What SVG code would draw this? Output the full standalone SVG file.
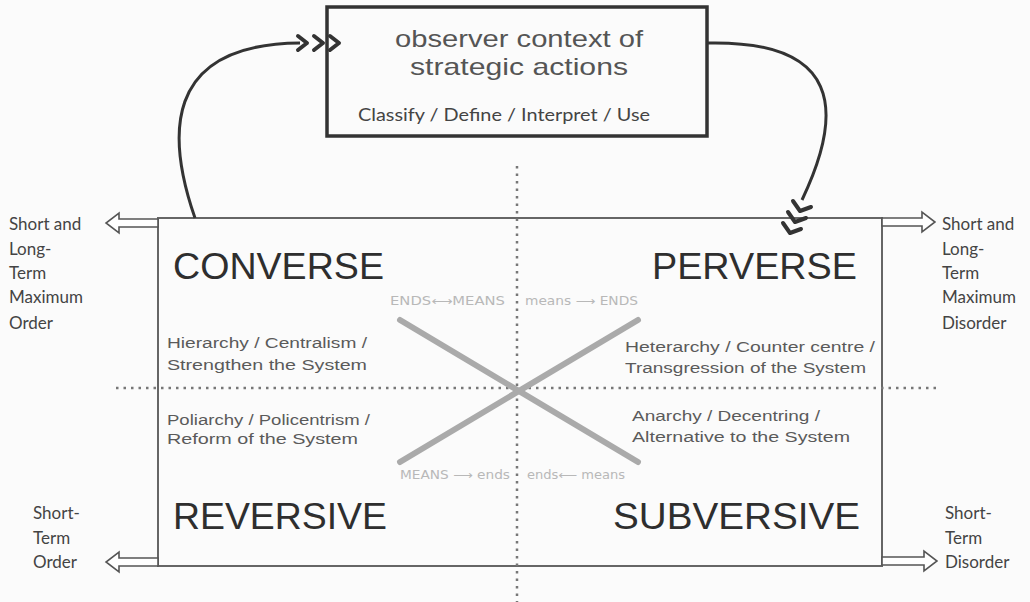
<svg xmlns="http://www.w3.org/2000/svg" width="1030" height="602" viewBox="0 0 1030 602">
<style>
.big{font-family:"Liberation Sans",Arial,sans-serif;font-size:37px;fill:#2e2e2e}
.sm{font-family:"Liberation Sans",Arial,sans-serif;font-size:14px;fill:#5a5a5a}
.side{font-family:Lato,"Noto Sans",sans-serif;font-size:17px;fill:#444}
.em{font-family:"DejaVu Sans",sans-serif;font-size:12px;fill:#b8b8b8}
.obs{font-family:"Liberation Sans",Arial,sans-serif;font-size:24px;fill:#555}
.hollow{fill:#fff;stroke:#555;stroke-width:1.6;stroke-linejoin:miter}
.dot{stroke:#777;stroke-width:2.5;stroke-dasharray:2.5 5;fill:none}
.curve{fill:none;stroke:#333;stroke-width:3}
.chev{fill:none;stroke:#333;stroke-width:4;stroke-linecap:round;stroke-linejoin:round}
.x{stroke:#aaa;stroke-width:6;stroke-linecap:round}
</style>
<rect width="1030" height="602" fill="#fbfbfb"/>
<g id="observer">
<rect x="327" y="7" width="380" height="129" fill="none" stroke="#333" stroke-width="3.5"/>
<text class="obs" x="395" y="47" textLength="248" lengthAdjust="spacingAndGlyphs">observer context of</text>
<text class="obs" x="410" y="75" textLength="218" lengthAdjust="spacingAndGlyphs">strategic actions</text>
<text class="side" x="358" y="121" font-size="19" textLength="292" lengthAdjust="spacingAndGlyphs">Classify / Define / Interpret / Use</text>
</g>
<g id="main">
<rect x="158" y="218" width="724" height="348" fill="none" stroke="#666" stroke-width="2"/>
</g>
<g id="connectors">
<line class="dot" x1="517" y1="166" x2="517" y2="602"/>
<line class="dot" x1="116" y1="388" x2="938" y2="388"/>
<line class="x" x1="400" y1="320" x2="638" y2="462"/>
<line class="x" x1="638" y1="320" x2="400" y2="462"/>
<path class="curve" d="M195,218 C168,140 160,44 300,43"/>
<polyline class="chev" points="298,36 307,43 298,50"/>
<polyline class="chev" points="314,36 323,43 314,50"/>
<polyline class="chev" points="330,36 339,43 330,50"/>
<path class="curve" d="M707,43 C840,40 845,110 802,200"/>
<polyline class="chev" points="793,201 800,211 811,207"/>
<polyline class="chev" points="788,212 795,222 806,218"/>
<polyline class="chev" points="783,223 790,233 801,229"/>
<polygon class="hollow" points="158,219 119,219 119,213 106,223 119,233 119,227 158,227"/>
<polygon class="hollow" points="158,558 119,558 119,552 106,562 119,572 119,566 158,566"/>
<polygon class="hollow" points="882,218 922,218 922,212 935,222 922,232 922,226 882,226"/>
<polygon class="hollow" points="882,557 924,557 924,551 937,561 924,571 924,565 882,565"/>
</g>
<g id="converse">
<text class="big" x="173" y="279" textLength="211" lengthAdjust="spacingAndGlyphs">CONVERSE</text>
<text class="sm" x="167" y="348" textLength="200" lengthAdjust="spacingAndGlyphs">Hierarchy / Centralism /</text>
<text class="sm" x="167" y="370" textLength="200" lengthAdjust="spacingAndGlyphs">Strengthen the System</text>
</g>
<g id="perverse">
<text class="big" x="652" y="279" textLength="205" lengthAdjust="spacingAndGlyphs">PERVERSE</text>
<text class="sm" x="625" y="352" textLength="250" lengthAdjust="spacingAndGlyphs">Heterarchy / Counter centre /</text>
<text class="sm" x="625" y="373" textLength="241" lengthAdjust="spacingAndGlyphs">Transgression of the System</text>
</g>
<g id="reversive">
<text class="big" x="173" y="529" textLength="214" lengthAdjust="spacingAndGlyphs">REVERSIVE</text>
<text class="sm" x="167" y="425" textLength="203" lengthAdjust="spacingAndGlyphs">Poliarchy / Policentrism /</text>
<text class="sm" x="167" y="444" textLength="191" lengthAdjust="spacingAndGlyphs">Reform of the System</text>
</g>
<g id="subversive">
<text class="big" x="613" y="529" textLength="247" lengthAdjust="spacingAndGlyphs">SUBVERSIVE</text>
<text class="sm" x="632" y="421" textLength="188" lengthAdjust="spacingAndGlyphs">Anarchy / Decentring /</text>
<text class="sm" x="632" y="442" textLength="218" lengthAdjust="spacingAndGlyphs">Alternative to the System</text>
</g>
<g id="ends-means">
<text class="em" x="390" y="305" textLength="115" lengthAdjust="spacingAndGlyphs">ENDS⟷MEANS</text>
<text class="em" x="525" y="305" textLength="113" lengthAdjust="spacingAndGlyphs">means ⟶ ENDS</text>
<text class="em" x="400" y="479" textLength="110" lengthAdjust="spacingAndGlyphs">MEANS ⟶ ends</text>
<text class="em" x="527" y="479" textLength="98" lengthAdjust="spacingAndGlyphs">ends⟵ means</text>
</g>
<g id="left-top">
<text class="side" x="9" y="230">Short and</text>
<text class="side" x="9" y="255">Long-</text>
<text class="side" x="9" y="279">Term</text>
<text class="side" x="9" y="303">Maximum</text>
<text class="side" x="9" y="329">Order</text>
</g>
<g id="right-top">
<text class="side" x="942" y="230">Short and</text>
<text class="side" x="942" y="255">Long-</text>
<text class="side" x="942" y="279">Term</text>
<text class="side" x="942" y="303">Maximum</text>
<text class="side" x="942" y="329">Disorder</text>
</g>
<g id="left-bottom">
<text class="side" x="33" y="519">Short-</text>
<text class="side" x="33" y="544">Term</text>
<text class="side" x="33" y="568">Order</text>
</g>
<g id="right-bottom">
<text class="side" x="945" y="519">Short-</text>
<text class="side" x="945" y="544">Term</text>
<text class="side" x="945" y="568">Disorder</text>
</g>
</svg>
